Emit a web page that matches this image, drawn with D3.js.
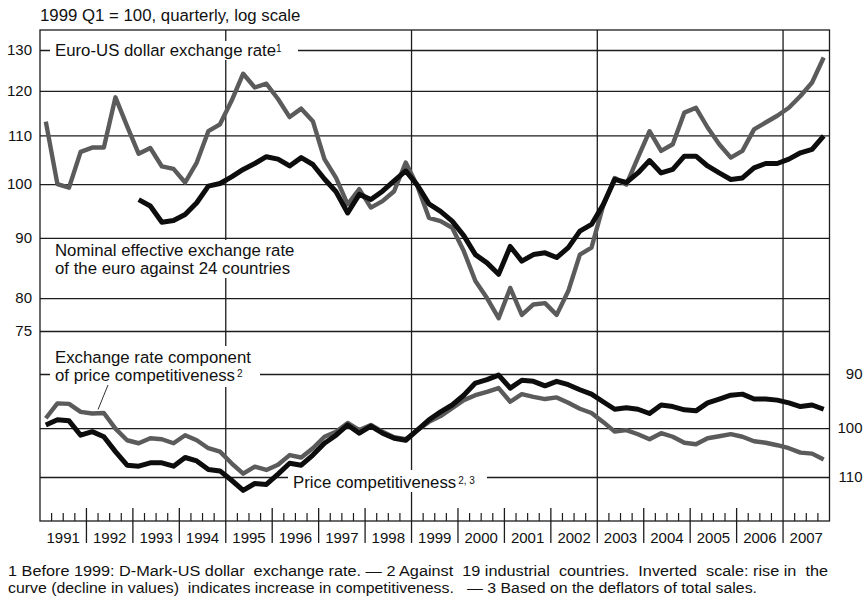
<!DOCTYPE html>
<html>
<head>
<meta charset="utf-8">
<script src="https://cdn.jsdelivr.net/npm/d3@7"></script>
<style>
body { margin: 0; background: #fff; }
svg text { font-family: "Liberation Sans", Arial, Helvetica, sans-serif; fill: #111; }
</style>
</head>
<body>
<svg id="chart" width="865" height="597"></svg>
<script>
// quarterly data 1991 Q1 - 2007 Q4, 1999 Q1 = 100
var years = d3.range(1991, 2008);
var upperTicks = [75, 80, 90, 100, 110, 120, 130];
var lowerTicks = [90, 100, 110];

// Euro-US dollar exchange rate (before 1999: D-Mark-US dollar)
var eurUsd = [113.0, 100.0, 99.3, 106.5, 107.4, 107.4, 118.5, 112.0,
    106.1, 107.3, 103.5, 103.0, 100.3, 104.3, 110.9, 112.4,
    117.7, 124.1, 120.8, 121.7, 118.1, 114.0, 115.9, 113.1,
    105.0, 101.2, 96.1, 99.0, 95.5, 96.7, 98.6, 104.3,
    99.6, 93.6, 93.0, 91.8, 87.7, 82.7, 80.0, 76.9,
    81.6, 77.4, 79.0, 79.2, 77.4, 81.1, 87.1, 88.3,
    95.8, 101.2, 99.9, 105.3, 110.9, 106.7, 108.1, 115.0,
    116.1, 111.7, 108.1, 105.3, 106.7, 111.3, 112.8, 114.3,
    116.1, 118.8, 122.0, 128.1];

// Nominal effective exchange rate of the euro against 24 countries (from 1993)
var neer = [null, null, null, null, null, null, null, null,
    97.0, 95.8, 92.8, 93.1, 94.2, 96.4, 99.6, 100.1,
    101.4, 102.9, 104.1, 105.5, 105.0, 103.6, 105.3, 103.9,
    101.0, 98.5, 94.5, 98.0, 97.0, 98.6, 100.6, 102.6,
    99.8, 96.2, 94.8, 93.0, 90.4, 87.1, 85.7, 83.8,
    88.5, 86.0, 87.1, 87.4, 86.6, 88.3, 91.2, 92.4,
    96.0, 100.9, 100.3, 102.2, 104.7, 102.2, 102.9, 105.6,
    105.6, 103.6, 102.2, 100.9, 101.2, 103.2, 104.1, 104.1,
    105.0, 106.3, 107.0, 109.9];

// Exchange rate component of price competitiveness (inverted scale)
var erComponent = [98.1, 95.3, 95.4, 96.9, 97.2, 97.1, 100.1, 102.4,
    103.0, 102.0, 102.2, 103.0, 101.4, 102.4, 104.0, 104.7,
    107.1, 109.3, 107.8, 108.5, 107.4, 105.4, 105.9, 104.0,
    101.7, 100.7, 99.0, 100.4, 99.4, 100.7, 101.8, 102.2,
    100.4, 98.8, 97.7, 96.2, 94.7, 93.8, 93.2, 92.5,
    95.0, 93.6, 94.1, 94.5, 94.2, 95.2, 96.3, 97.1,
    98.8, 100.7, 100.4, 101.2, 102.2, 101.0, 101.7, 102.9,
    103.2, 102.0, 101.6, 101.2, 101.7, 102.6, 102.9, 103.4,
    104.0, 104.9, 105.1, 106.3];

// Price competitiveness (inverted scale)
var priceComp = [99.4, 98.4, 98.6, 101.4, 100.7, 101.7, 104.7, 107.5,
    107.7, 107.0, 107.0, 107.7, 105.9, 106.6, 108.4, 108.7,
    110.7, 112.9, 111.4, 111.6, 109.4, 107.1, 107.5, 105.4,
    103.0, 101.4, 99.4, 101.0, 99.6, 101.0, 102.0, 102.4,
    100.4, 98.4, 96.9, 95.6, 93.8, 91.6, 91.0, 90.2,
    92.5, 91.1, 91.3, 92.1, 91.3, 91.9, 92.8, 93.6,
    95.0, 96.4, 96.1, 96.4, 97.2, 95.6, 95.9, 96.5,
    96.7, 95.2, 94.5, 93.8, 93.6, 94.5, 94.5, 94.7,
    95.2, 95.9, 95.6, 96.4];

var svg = d3.select("#chart"),
    topY = 30,
    axisY = 521,
    gridColor = "#1c1c1c",
    grayColor = "#5b5b5b",
    blackColor = "#0d0d0d",
    labelSize = 16.8;

var x = d3.scaleLinear().domain([1991, 2008]).range([40, 829.5]);
var yUp = d3.scaleLog().domain([75, 130]).range([331, 50]);
var yLow = d3.scaleLog().domain([90, 110]).range([374, 477]);
var left = x(1991), right = x(2008), width = right - left;

function qx(i) { return x(1991 + (i + 0.5) / 4); }

// title
svg.append("text")
    .attr("x", 40)
    .attr("y", 21)
    .attr("font-size", labelSize)
    .text("1999 Q1 = 100, quarterly, log scale");

// horizontal grid + left labels (upper panel)
svg.append("g")
    .attr("transform", "translate(" + left + ",0)")
    .call(d3.axisLeft(yUp).tickValues(upperTicks).tickFormat(d3.format("d"))
        .tickSize(-width).tickPadding(8))
    .attr("font-family", null).attr("font-size", 15)
    .call(g => g.select(".domain").remove())
    .call(g => g.selectAll("line").attr("stroke", gridColor).attr("stroke-width", 1.3))
    .call(g => g.selectAll("text").attr("fill", "#111"));

// lower panel, labels on the right, inverted scale
svg.append("g")
    .attr("transform", "translate(" + right + ",0)")
    .call(d3.axisRight(yLow).tickValues(lowerTicks).tickFormat(d3.format("d"))
        .tickSize(-width))
    .attr("font-family", null).attr("font-size", 15)
    .call(g => g.select(".domain").remove())
    .call(g => g.selectAll("line").attr("stroke", gridColor).attr("stroke-width", 1.3))
    .call(g => g.selectAll("text").attr("fill", "#111")
        .attr("text-anchor", "end").attr("x", 33));

// frame
svg.append("rect")
    .attr("x", left).attr("y", topY)
    .attr("width", width).attr("height", axisY - topY)
    .attr("fill", "none")
    .attr("stroke", gridColor)
    .attr("stroke-width", 1.3);

// every fourth year gets a full vertical line
var bigYears = [1995, 1999, 2003, 2007];
svg.append("g").selectAll("line")
    .data(bigYears)
    .join("line")
    .attr("x1", d => x(d)).attr("x2", d => x(d))
    .attr("y1", topY).attr("y2", 543)
    .attr("stroke", gridColor).attr("stroke-width", 1.3);

// year separators
svg.append("g").selectAll("line")
    .data(years.slice(1).filter(d => bigYears.indexOf(d) < 0))
    .join("line")
    .attr("x1", d => x(d)).attr("x2", d => x(d))
    .attr("y1", 508).attr("y2", 543)
    .attr("stroke", gridColor).attr("stroke-width", 1.3);

// quarter ticks
var quarters = [];
years.forEach(yr => { [1, 2, 3].forEach(q => quarters.push(yr + q / 4)); });
svg.append("g").selectAll("line")
    .data(quarters)
    .join("line")
    .attr("x1", d => x(d)).attr("x2", d => x(d))
    .attr("y1", 513).attr("y2", axisY)
    .attr("stroke", gridColor).attr("stroke-width", 1.2);

// year labels
svg.append("g").selectAll("text")
    .data(years)
    .join("text")
    .attr("x", d => x(d + 0.5))
    .attr("y", 543)
    .attr("text-anchor", "middle")
    .attr("font-size", 15)
    .text(d => d);

// white boxes which break the grid behind the labels
var boxes = [
    [50, 41, 248, 19],
    [50, 240, 258, 38],
    [50, 346, 210, 41],
    [288, 470, 199, 22]
];
svg.append("g").selectAll("rect")
    .data(boxes)
    .join("rect")
    .attr("x", d => d[0]).attr("y", d => d[1])
    .attr("width", d => d[2]).attr("height", d => d[3])
    .attr("fill", "#fff");

// series
var lineUp = d3.line()
    .defined(d => d != null)
    .x((d, i) => qx(i))
    .y(d => yUp(d));
var lineLow = d3.line()
    .x((d, i) => qx(i))
    .y(d => yLow(d));

var series = [
    {data: eurUsd, line: lineUp, color: grayColor, w: 4.4},
    {data: neer, line: lineUp, color: blackColor, w: 5},
    {data: erComponent, line: lineLow, color: grayColor, w: 4.4},
    {data: priceComp, line: lineLow, color: blackColor, w: 5}
];
series.forEach(s => {
    svg.append("path")
        .datum(s.data)
        .attr("fill", "none")
        .attr("stroke", s.color)
        .attr("stroke-width", s.w)
        .attr("stroke-linejoin", "round")
        .attr("stroke-linecap", "butt")
        .attr("d", s.line);
});

// leader line for exchange rate component label
svg.append("line")
    .attr("x1", 108).attr("y1", 385)
    .attr("x2", qx(4.5)).attr("y2", yLow(erComponent[4]) - 4)
    .attr("stroke", "#333").attr("stroke-width", 1);

// labels
function label(xp, yp, txt, sup) {
    var t = svg.append("text")
        .attr("x", xp).attr("y", yp)
        .attr("font-size", labelSize)
        .text(txt);
    if (sup) {
        t.append("tspan")
            .attr("font-size", 10)
            .attr("dy", -4.5)
            .text(sup);
    }
}
label(55, 56, "Euro-US dollar exchange rate", "1");
label(55, 256, "Nominal effective exchange rate");
label(55, 274, "of the euro against 24 countries");
label(55, 362.5, "Exchange rate component");
label(55, 381, "of price competitiveness", "\u20092");
label(293, 488, "Price competitiveness", "\u20092, 3");

// footnotes
var notes = [
    "1 Before 1999: D-Mark-US dollar  exchange rate. \u2014 2 Against  19 industrial  countries.  Inverted  scale: rise in  the",
    "curve (decline in values)  indicates increase in competitiveness.   \u2014 3 Based on the deflators of total sales."
];
var noteLen = [820, 749];
svg.append("g").selectAll("text")
    .data(notes)
    .join("text")
    .attr("x", 8)
    .attr("y", (d, i) => 576 + i * 17)
    .attr("font-size", 14)
    .attr("textLength", (d, i) => noteLen[i])
    .attr("lengthAdjust", "spacingAndGlyphs")
    .style("font-family", "'Liberation Sans Narrow', 'Arial Narrow', 'Liberation Sans', sans-serif")
    .style("white-space", "pre")
    .text(d => d);
</script>
</body>
</html>
